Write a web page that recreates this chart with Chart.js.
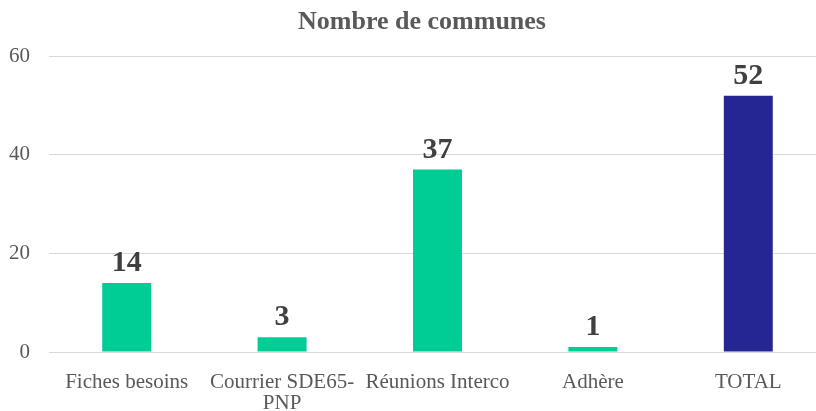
<!DOCTYPE html>
<html lang="fr">
<head>
    <meta charset="UTF-8">
    <title>Nombre de communes</title>
    <script src="https://cdn.jsdelivr.net/npm/chart.js"></script>
    <style>
        html, body { margin: 0; padding: 0; background: #fff; overflow: hidden; }
        .wrap { width: 844px; height: 411px; }
    </style>
</head>
<body>
    <div class="wrap"><canvas id="communesChart" width="844" height="411"></canvas></div>
    <script>
        // categories and values
        const categories = ["Fiches besoins", ["Courrier SDE65-", "PNP"], "Réunions Interco", "Adhère", "TOTAL"];
        const communes = [14, 3, 37, 1, 52];
        const barColors = ["#00CC96", "#00CC96", "#00CC96", "#00CC96", "#262594"];
        const yTicks = [0, 20, 40, 60];

        const serif = '"Liberation Serif", "Times New Roman", serif';

        // bold value above each bar
        const valueLabels = {
            id: 'valueLabels',
            afterLayout(chart) {
                // center the title on the whole canvas, not the padded area
                if (chart.titleBlock) {
                    chart.titleBlock.left += 9;
                    chart.titleBlock.right += 9;
                }
            },
            afterDatasetsDraw(chart) {
                const ctx = chart.ctx;
                const meta = chart.getDatasetMeta(0);
                ctx.save();
                ctx.font = 'bold 30px ' + serif;
                ctx.fillStyle = '#404040';
                ctx.textAlign = 'center';
                ctx.textBaseline = 'alphabetic';
                meta.data.forEach((bar, i) => {
                    ctx.fillText(communes[i], bar.x, bar.y - 12);
                });
                ctx.restore();
            }
        };

        new Chart(document.getElementById('communesChart'), {
            type: 'bar',
            data: {
                labels: categories,
                datasets: [{
                    label: 'Nombre de communes',
                    data: communes,
                    backgroundColor: barColors,
                    categoryPercentage: 1,
                    barPercentage: 0.315
                }]
            },
            options: {
                responsive: false,
                animation: false,
                layout: { padding: { left: 0, right: 18, top: 0, bottom: 0 } },
                plugins: {
                    legend: { display: false },
                    tooltip: { enabled: false },
                    title: {
                        display: true,
                        text: 'Nombre de communes',
                        color: '#595959',
                        font: { family: serif, size: 26, weight: 'bold' },
                        padding: { top: 7, bottom: 18 }
                    }
                },
                scales: {
                    x: {
                        grid: { display: false },
                        border: { display: false },
                        ticks: {
                            color: '#595959',
                            padding: 12,
                            maxRotation: 0,
                            autoSkip: false,
                            font: { family: serif, size: 21, lineHeight: 1.0 }
                        },
                        afterFit(scale) { scale.height = 59; }
                    },
                    y: {
                        min: 0,
                        max: 60,
                        afterBuildTicks(scale) { scale.ticks = yTicks.map(v => ({ value: v })); },
                        grid: { color: '#d9d9d9', drawTicks: false, lineWidth: 1 },
                        border: { display: false },
                        ticks: {
                            color: '#595959',
                            padding: 19,
                            font: { family: serif, size: 21 }
                        },
                        afterFit(scale) { scale.width = 49; }
                    }
                }
            },
            plugins: [valueLabels]
        });
    </script>
</body>
</html>
